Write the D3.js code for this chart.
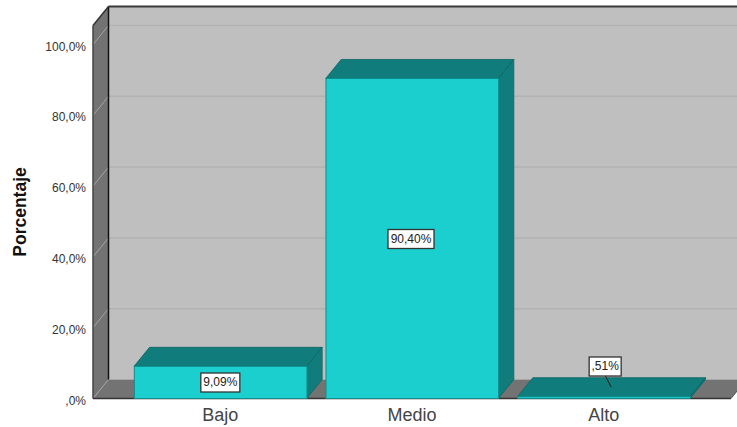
<!DOCTYPE html>
<html><head><meta charset="utf-8">
<script src="https://cdn.jsdelivr.net/npm/d3@7"></script>
<style>html,body{margin:0;padding:0;background:#fff}svg{display:block}text{font-family:"Liberation Sans",Arial,sans-serif;fill:#333}</style>
</head><body><svg id="c" width="737" height="427"></svg>
<script>
const categories = ["Bajo","Medio","Alto"];
const values = [9.09,90.40,0.51];
const valueLabels = ["9,09%","90,40%",",51%"];
const ticks = [0,20,40,60,80,100];
const tickLabels = [",0%","20,0%","40,0%","60,0%","80,0%","100,0%"];
const yTitle = "Porcentaje";

const W=737,H=427, dx=15.5, dy=-19;
const x0=93, x1=731, yBase=398.5, yTop=25.5;
const y=d3.scaleLinear().domain([0,100]).range([yBase,44.5]);
const x=d3.scaleBand().domain(categories).range([x0,x1]).paddingInner(0.0992).paddingOuter(0.214);
const svg=d3.select("#c");
const poly=(pts,f,s,w)=>svg.append("polygon").attr("points",pts.map(p=>p.join(",")).join(" ")).attr("fill",f).attr("stroke",s||"none").attr("stroke-width",w||0);

// walls
poly([[x0+dx,yTop+dy],[W+5,yTop+dy],[W+5,yBase+dy],[x0+dx,yBase+dy]],"#bfbfbf");
poly([[x0,yTop],[x0+dx,yTop+dy],[x0+dx,yBase+dy],[x0,yBase]],"#737373");
poly([[x0,yBase],[x0+dx,yBase+dy],[x1+dx,yBase+dy],[x1,yBase]],"#737373");

// gridlines
ticks.forEach(t=>{
  if(t===0) return;
  svg.append("line").attr("x1",x0+dx).attr("x2",W).attr("y1",y(t)+dy).attr("y2",y(t)+dy).attr("stroke","#b2b2b2").attr("stroke-width",1.5);
  svg.append("line").attr("x1",x0).attr("x2",x0+dx).attr("y1",y(t)).attr("y2",y(t)+dy).attr("stroke","#a3a3a3").attr("stroke-width",1);
});
svg.append("line").attr("x1",x0).attr("x2",x0+dx).attr("y1",yBase).attr("y2",yBase+dy).attr("stroke","#a3a3a3").attr("stroke-width",1);

// wall outlines
const ln=(a,b,c,d,col,w)=>svg.append("line").attr("x1",a).attr("y1",b).attr("x2",c).attr("y2",d).attr("stroke",col||"#333").attr("stroke-width",w||1.5);
ln(x0+dx,yTop+dy,W,yTop+dy,"#3a3a3a",2);
ln(x0+dx,yTop+dy,x0+dx,yBase+dy,"#111",1.5);
ln(x0,yTop,x0+dx,yTop+dy,"#333",1.5);
ln(x0,yTop,x0,yBase,"#444",1.5);
ln(x0,yBase,x1,yBase,"#333",1.5);
ln(x1,yBase,x1+dx,yBase+dy,"#555",1);

// bars
categories.forEach((c,i)=>{
  const l=x(c), r=l+x.bandwidth(), t=y(values[i]);
  poly([[l,t],[l+dx,t+dy],[r+dx,t+dy],[r,t]],"#107c7c","#0c6464",0.8);
  poly([[r,t],[r+dx,t+dy],[r+dx,yBase+dy],[r,yBase]],"#107c7c","#0c6464",0.8);
  svg.append("rect").attr("x",l+0.3).attr("y",t).attr("width",x.bandwidth()).attr("height",yBase-t).attr("fill","#1ccfcf").attr("stroke","#128c8c").attr("stroke-width",1);
});

// y tick labels
ticks.forEach((t,i)=>{
  svg.append("text").attr("x",86).attr("y",y(t)+3).attr("text-anchor","end").attr("dominant-baseline","middle").attr("font-size",12).text(tickLabels[i]);
});
// category labels
categories.forEach(c=>{
  svg.append("text").attr("x",x(c)+x.bandwidth()/2).attr("y",421).attr("text-anchor","middle").attr("font-size",18).style("fill","#444").text(c);
});
svg.append("text").attr("transform","translate(25.5,212) rotate(-90)").attr("text-anchor","middle").attr("font-size",17.5).attr("font-weight","bold").style("fill","#111").text(yTitle);

// value labels
const boxW=[39,46,32];
const boxCy=[382.5,239,366.5];
categories.forEach((c,i)=>{
  const cx=x(c)+x.bandwidth()/2+(i===0?0:i===1?-1:1.5);
  if(i===2){ ln(cx,boxCy[i]+9,cx+6,387,"#1a1a1a",1); }
  svg.append("rect").attr("x",cx-boxW[i]/2).attr("y",boxCy[i]-9.5).attr("width",boxW[i]).attr("height",19).attr("fill","#fff").attr("stroke","#333").attr("stroke-width",1.3);
  svg.append("text").attr("x",cx).attr("y",boxCy[i]+.5).attr("text-anchor","middle").attr("dominant-baseline","middle").attr("font-size",12).style("fill","#222").text(valueLabels[i]);
});
</script></body></html>
